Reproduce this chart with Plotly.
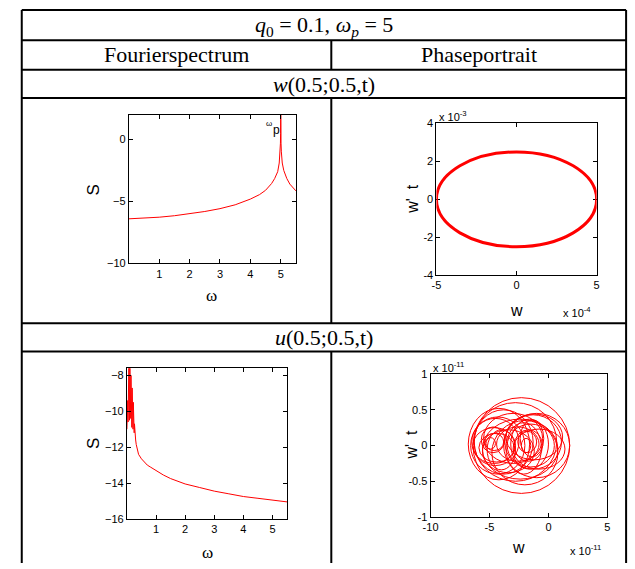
import plotly.graph_objects as go

W, H = 635, 569

# ---------------- data ----------------
# Fourier spectrum of w(0.5;0.5,t)
omega_w = [0, 0.5, 1, 1.5, 2, 2.5, 3, 3.5, 4, 4.3, 4.5, 4.7, 4.8, 4.9, 4.95, 4.98, 4.99,
           4.995, 5.0, 5.005, 5.01, 5.02, 5.05, 5.1, 5.2, 5.3, 5.4, 5.5]
S_w = [-6.40, -6.36, -6.27, -6.15, -6.00, -5.81, -5.58, -5.27, -4.81, -4.45, -4.10, -3.55,
       -3.15, -2.60, -1.90, -1.00, -0.30, 0.50, 3.00, 0.50, -0.30, -1.00, -1.90, -2.50,
       -3.15, -3.60, -3.90, -4.15]

# Fourier spectrum of u(0.5;0.5,t)
omega_u = [0.0, 0.01, 0.02, 0.03, 0.04, 0.05, 0.06, 0.07, 0.08, 0.09, 0.10, 0.11, 0.12,
           0.13, 0.14, 0.15, 0.16, 0.17, 0.18, 0.19, 0.20, 0.21, 0.22, 0.23, 0.24, 0.25,
           0.26, 0.27, 0.28, 0.30, 0.32, 0.35, 0.4, 0.5, 0.6, 0.7, 0.8, 1.0, 1.25, 1.5,
           2.0, 2.5, 3.0, 3.5, 4.0, 4.5, 5.0, 5.5]
S_u = [-11.0, -10.2, -10.9, -9.4, -10.6, -8.3, -10.3, -7.0, -9.8, -10.5, -7.0, -9.9, -7.2,
       -10.4, -8.0, -10.6, -9.0, -10.9, -8.7, -10.8, -9.8, -11.0, -9.5, -11.1, -10.3, -11.2,
       -10.7, -11.3, -11.0, -11.6, -11.85, -12.1, -12.4, -12.65, -12.85, -13.0, -13.1,
       -13.3, -13.55, -13.75, -14.05, -14.25, -14.45, -14.6, -14.75, -14.85, -14.95, -15.05]

# Phase portrait of w: ellipse (center / half axes)
ell_cx, ell_cy, ell_rx, ell_ry = 0.0, 0.0, 5.0e-4, 2.5e-3

# Phase portrait of u: loops (units of 1e-11): centers and half axes
loop_cx = [-4.2, -4.3, -4.5, -4.6, -4.4, -4.6, -4.9, -3.8, -4.0, -4.7,
           -1.0, -1.3, -1.5, -1.6, -1.7, -1.8, -1.9, -0.8, -1.4, -2.1,
           -2.3, -2.8, -2.4, -3.0, -2.0, -3.4, -1.2, -2.6]
loop_cy = [0.02, 0.00, 0.05, 0.00, -0.03, 0.05, 0.03, 0.05, -0.06, 0.08,
           0.00, 0.05, 0.00, 0.02, 0.00, 0.05, 0.00, -0.05, 0.10, -0.04,
           0.00, 0.05, -0.05, 0.10, -0.10, -0.08, 0.12, 0.02]
loop_rx = [2.6, 2.3, 2.0, 1.8, 1.5, 0.8, 0.4, 2.5, 1.2, 1.0,
           2.8, 2.4, 2.0, 1.6, 1.2, 0.8, 0.4, 2.2, 1.0, 1.5,
           4.1, 3.5, 3.2, 2.5, 2.8, 2.2, 2.4, 1.8]
loop_ry = [0.50, 0.40, 0.33, 0.25, 0.20, 0.12, 0.08, 0.45, 0.28, 0.18,
           0.45, 0.38, 0.30, 0.35, 0.22, 0.15, 0.10, 0.28, 0.26, 0.36,
           0.67, 0.55, 0.42, 0.35, 0.45, 0.30, 0.32, 0.24]
loop_scale = 1e-11

RED = "#ff0000"


def px(x):
    return x / W


def py(y):
    return 1 - y / H


fig = go.Figure()

fig.add_trace(go.Scatter(x=omega_w, y=S_w, mode="lines", line=dict(color=RED, width=1),
                         xaxis="x", yaxis="y", showlegend=False, hoverinfo="skip"))
fig.add_trace(go.Scatter(x=[None], y=[None], mode="lines", xaxis="x2", yaxis="y2",
                         showlegend=False))
fig.add_trace(go.Scatter(x=omega_u, y=S_u, mode="lines", line=dict(color=RED, width=1),
                         xaxis="x3", yaxis="y3", showlegend=False, hoverinfo="skip"))
fig.add_trace(go.Scatter(x=[None], y=[None], mode="lines", xaxis="x4", yaxis="y4",
                         showlegend=False))

shapes = []
# ellipse
shapes.append(dict(type="circle", xref="x2", yref="y2",
                   x0=ell_cx - ell_rx, x1=ell_cx + ell_rx,
                   y0=ell_cy - ell_ry, y1=ell_cy + ell_ry,
                   line=dict(color=RED, width=3)))
# loops
for cx, cy, rx, ry in zip(loop_cx, loop_cy, loop_rx, loop_ry):
    shapes.append(dict(type="circle", xref="x4", yref="y4",
                       x0=(cx - rx) * loop_scale, x1=(cx + rx) * loop_scale,
                       y0=(cy - ry) * loop_scale, y1=(cy + ry) * loop_scale,
                       line=dict(color=RED, width=1)))

# table lines (pixel positions)
LW = 2


def hline(y, x0, x1):
    shapes.append(dict(type="line", xref="paper", yref="paper", x0=px(x0), x1=px(x1),
                       y0=py(y), y1=py(y), line=dict(color="black", width=LW)))


def vline(x, y0, y1):
    shapes.append(dict(type="line", xref="paper", yref="paper", x0=px(x), x1=px(x),
                       y0=py(y0), y1=py(y1), line=dict(color="black", width=LW)))


L, R = 14, 629
for yy in [4, 35, 65, 94, 324, 353]:
    hline(yy, L, R)
vline(L, 4, 569)
vline(R, 4, 569)
vline(329, 35, 65)
vline(329, 94, 324)
vline(329, 353, 569)

ann = []
SERIF = "Liberation Serif"
SANS = "Liberation Sans"


def text(x, y, t, size, family=SERIF, angle=0, xanchor="center", yanchor="middle"):
    ann.append(dict(x=px(x), y=py(y), xref="paper", yref="paper", text=t, showarrow=False,
                    font=dict(family=family, size=size, color="black"), textangle=angle,
                    xanchor=xanchor, yanchor=yanchor))


text(321.5, 20, "<i>q</i><sub>0</sub> = 0.1, <i>ω<sub>p</sub></i> = 5", 22)
text(171.5, 50, "Fourierspectrum", 22)
text(479, 50, "Phaseportrait", 22)
text(321.5, 80, "<i>w</i>(0.5;0.5,t)", 22)
text(321.5, 339, "<i>u</i>(0.5;0.5,t)", 22)

# axis labels
text(87, 188, "S", 17, SANS, angle=-90)
text(207, 296, "ω", 17, SERIF)
text(87, 447, "S", 17, SANS, angle=-90)
text(203, 558, "ω", 17, SERIF)
text(266, 120, "ω", 8, SANS)
text(273, 127, "p", 12, SANS)

text(412, 197, "w'  t", 16, SANS, angle=-90)
text(517, 311, "w", 16, SANS)
text(437, 112, "x 10<sup>-3</sup>", 11, SANS, xanchor="left")
text(563, 313, "x 10<sup>-4</sup>", 11, SANS, xanchor="left")

text(411, 448, "w'  t", 16, SANS, angle=-90)
text(519, 553, "w", 16, SANS)
text(430, 369, "x 10<sup>-11</sup>", 11, SANS, xanchor="left")
text(570, 556, "x 10<sup>-11</sup>", 11, SANS, xanchor="left")


def ax(domain, rng, tickvals, ticktext=None):
    d = dict(domain=domain, range=rng, tickvals=tickvals, ticks="inside", ticklen=4,
             mirror="ticks", showline=True, linecolor="black", linewidth=1,
             tickcolor="black", showgrid=False, zeroline=False,
             tickfont=dict(family=SANS, size=11, color="black"))
    if ticktext is not None:
        d["ticktext"] = ticktext
    return d


fig.update_layout(
    width=W, height=H, margin=dict(l=0, r=0, t=0, b=0),
    paper_bgcolor="white", plot_bgcolor="white", showlegend=False,
    xaxis=ax([px(123), px(293)], [0, 5.5], [1, 2, 3, 4, 5]),
    yaxis=ax([py(263), py(111)], [-10, 2], [-10, -5, 0]),
    xaxis2=ax([px(436), px(599)], [-5e-4, 5e-4], [-5e-4, 0, 5e-4], ["-5", "0", "5"]),
    yaxis2=ax([py(275), py(120)], [-4e-3, 4e-3], [-4e-3, -2e-3, 0, 2e-3, 4e-3],
              ["-4", "-2", "0", "2", "4"]),
    xaxis3=ax([px(121), px(284)], [0, 5.5], [1, 2, 3, 4, 5]),
    yaxis3=ax([py(524), py(370)], [-16, -7.6], [-16, -14, -12, -10, -8]),
    xaxis4=ax([px(430), px(610)], [-10e-11, 5e-11], [-10e-11, -5e-11, 0, 5e-11],
              ["-10", "-5", "0", "5"]),
    yaxis4=ax([py(522), py(376)], [-1e-11, 1e-11], [-1e-11, -0.5e-11, 0, 0.5e-11, 1e-11],
              ["-1", "-0.5", "0", "0.5", "1"]),
    shapes=shapes, annotations=ann,
)
fig.update_layout(xaxis2_anchor="y2", yaxis2_anchor="x2", xaxis3_anchor="y3",
                  yaxis3_anchor="x3", xaxis4_anchor="y4", yaxis4_anchor="x4")

fig.write_html("out.html")
